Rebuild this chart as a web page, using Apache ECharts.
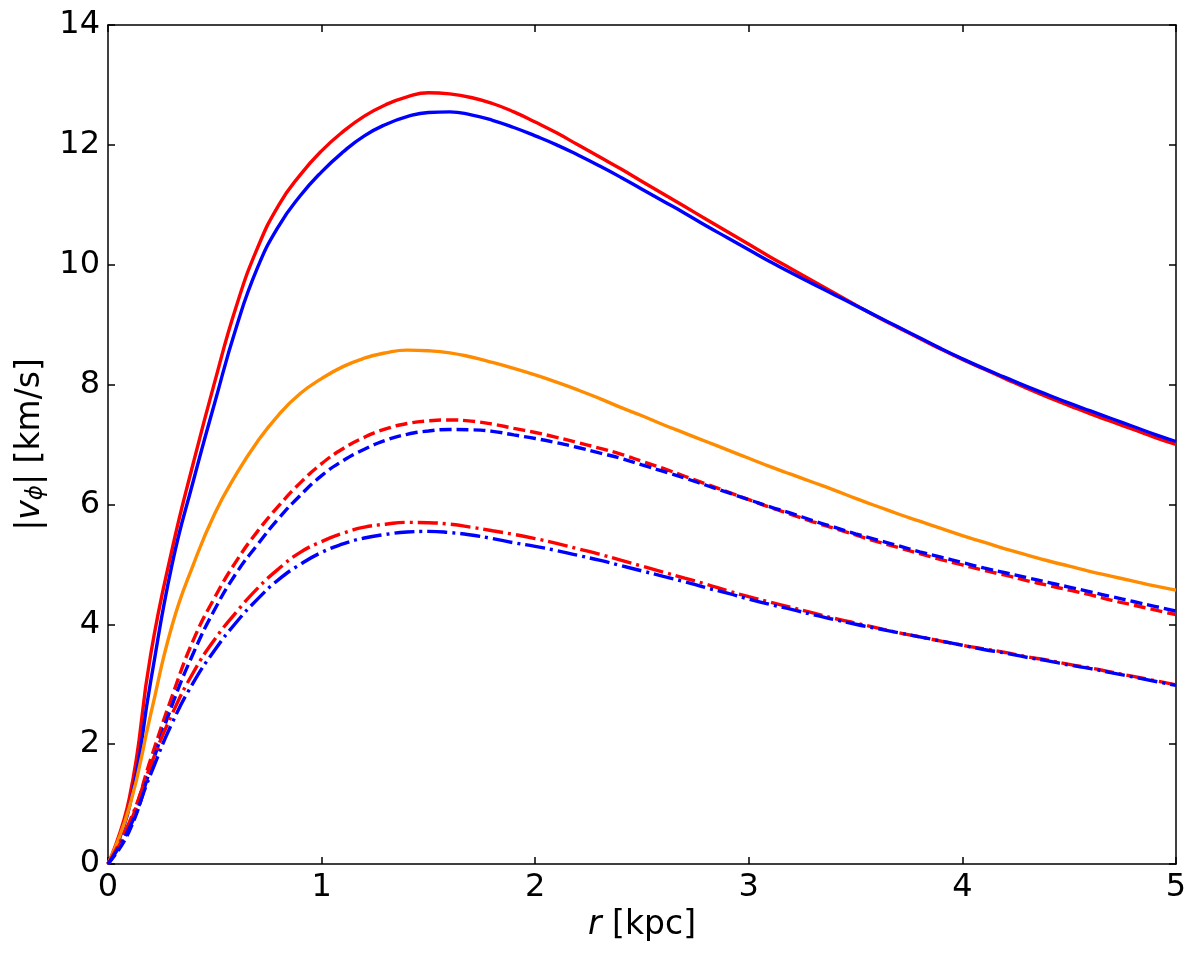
<!DOCTYPE html>
<html>
<head>
<meta charset="utf-8">
<script src="https://cdn.jsdelivr.net/npm/echarts@6/dist/echarts.min.js"></script>
<style>
html,body{margin:0;padding:0;background:#fff;}
#chart{width:1200px;height:959px;}
</style>
</head>
<body>
<div id="chart"></div>
<script>
// radius grid [kpc]
const r = [0,0.1,0.2,0.3,0.4,0.5,0.6,0.7,0.8,0.9,1.0,1.1,1.2,1.3,1.4,1.5,1.6,1.7,1.8,1.9,2.0,2.1,2.2,2.3,2.4,2.5,2.6,2.7,2.8,2.9,3.0,3.1,3.2,3.3,3.4,3.5,3.6,3.7,3.8,3.9,4.0,4.1,4.2,4.3,4.4,4.5,4.6,4.7,4.8,4.9,5.0];
// |v_phi| [km/s]
const redSolid    = [0,1.1,3.5,5.25,6.7,8.05,9.3,10.28,11.0,11.5,11.9,12.22,12.48,12.67,12.8,12.87,12.85,12.79,12.69,12.55,12.38,12.2,12.0,11.8,11.6,11.39,11.18,10.97,10.76,10.55,10.34,10.13,9.93,9.73,9.53,9.33,9.13,8.95,8.77,8.59,8.42,8.26,8.1,7.94,7.79,7.65,7.51,7.38,7.25,7.12,7.0];
const blueSolid   = [0,0.95,3.05,5.0,6.4,7.7,8.95,9.95,10.65,11.15,11.55,11.88,12.15,12.34,12.47,12.54,12.55,12.5,12.41,12.29,12.15,12.0,11.83,11.65,11.46,11.26,11.06,10.86,10.65,10.45,10.25,10.05,9.86,9.68,9.5,9.32,9.14,8.96,8.78,8.6,8.43,8.27,8.12,7.97,7.83,7.69,7.56,7.43,7.3,7.17,7.05];
const orangeSolid = [0,0.95,2.5,3.98,5.0,5.85,6.5,7.05,7.5,7.85,8.1,8.3,8.44,8.53,8.575,8.565,8.53,8.46,8.37,8.27,8.16,8.04,7.91,7.77,7.62,7.48,7.33,7.19,7.05,6.91,6.77,6.63,6.5,6.37,6.24,6.1,5.97,5.84,5.72,5.6,5.48,5.37,5.26,5.16,5.06,4.97,4.88,4.8,4.72,4.64,4.57];
const redDashed   = [0,0.65,1.75,2.8,3.74,4.45,5.05,5.55,5.98,6.36,6.68,6.93,7.12,7.26,7.35,7.395,7.41,7.39,7.34,7.27,7.2,7.12,7.03,6.94,6.84,6.72,6.6,6.47,6.34,6.21,6.08,5.95,5.83,5.71,5.6,5.49,5.38,5.28,5.18,5.08,4.99,4.9,4.82,4.73,4.65,4.57,4.49,4.4,4.32,4.24,4.16];
const blueDashed  = [0,0.55,1.6,2.65,3.52,4.25,4.85,5.33,5.77,6.15,6.48,6.73,6.92,7.07,7.17,7.225,7.25,7.245,7.22,7.16,7.1,7.03,6.95,6.86,6.77,6.66,6.55,6.44,6.32,6.2,6.08,5.96,5.85,5.73,5.62,5.51,5.41,5.31,5.21,5.12,5.03,4.94,4.86,4.78,4.7,4.62,4.54,4.46,4.38,4.3,4.22];
const redDashDot  = [0,0.7,1.65,2.5,3.2,3.75,4.2,4.6,4.93,5.2,5.38,5.52,5.62,5.67,5.7,5.695,5.67,5.62,5.56,5.5,5.43,5.35,5.26,5.17,5.07,4.97,4.87,4.77,4.67,4.56,4.46,4.37,4.28,4.19,4.1,4.02,3.94,3.86,3.79,3.72,3.65,3.59,3.53,3.46,3.4,3.33,3.27,3.2,3.13,3.06,2.99];
const blueDashDot = [0,0.6,1.5,2.35,3.03,3.57,4.03,4.42,4.75,5.0,5.2,5.34,5.44,5.5,5.54,5.55,5.53,5.49,5.43,5.36,5.3,5.23,5.15,5.07,4.98,4.89,4.8,4.71,4.61,4.52,4.42,4.33,4.25,4.16,4.08,4.0,3.93,3.86,3.79,3.72,3.65,3.58,3.52,3.45,3.39,3.32,3.26,3.19,3.12,3.05,2.98];
const xTicks = [0,1,2,3,4,5];
const yTicks = [0,2,4,6,8,10,12,14];

const FONT = 'DejaVu Sans';
const pairs = ys => r.map((x,i)=>[x, ys[i]]);
function line(name, ys, color, type){
  return {
    name, type:'line', data: pairs(ys), showSymbol:false, smooth:0.5,
    lineStyle:{color, width:3.4, type: type || 'solid', cap:'butt'},
    itemStyle:{color}, animation:false, silent:true, clip:true
  };
}
const axisCommon = {
  axisLine:{show:true, onZero:false, lineStyle:{color:'#000', width:1.5}},
  axisTick:{show:true, inside:true, length:7, lineStyle:{color:'#000', width:1.5}},
  splitLine:{show:false}
};
const chart = echarts.init(document.getElementById('chart'), null, {renderer:'canvas'});
chart.setOption({
  backgroundColor:'#fff',
  animation:false,
  grid:{left:108, right:24, top:25, bottom:95, containLabel:false},
  xAxis:[
    Object.assign({type:'value', position:'bottom', min:0, max:5, interval:1,
      name:'{i|r} [kpc]', nameLocation:'middle', nameGap:42,
      nameTextStyle:{fontFamily:FONT, fontSize:33, color:'#000', rich:{i:{fontFamily:FONT, fontSize:33, fontStyle:'italic', color:'#000'}}},
      axisLabel:{fontFamily:FONT, fontSize:32, color:'#000', margin:8, formatter: v => xTicks.includes(v) ? String(v) : ''}
    }, axisCommon),
    Object.assign({type:'value', position:'top', min:0, max:5, interval:1, axisLabel:{show:false}}, axisCommon)
  ],
  yAxis:[
    Object.assign({type:'value', position:'left', min:0, max:14, interval:2,
      name:'|{i|v}{s|ϕ}| [km/s]', nameLocation:'middle', nameGap:60, nameRotate:90,
      nameTextStyle:{fontFamily:FONT, fontSize:33, color:'#000',
        rich:{i:{fontFamily:FONT, fontSize:33, fontStyle:'italic', color:'#000'},
              s:{fontFamily:FONT, fontSize:23, fontStyle:'italic', color:'#000', verticalAlign:'bottom', padding:[12,0,0,0]}}},
      axisLabel:{fontFamily:FONT, fontSize:32, color:'#000', margin:8, formatter: v => yTicks.includes(v) ? String(v) : ''}
    }, axisCommon),
    Object.assign({type:'value', position:'right', min:0, max:14, interval:2, axisLabel:{show:false}}, axisCommon)
  ],
  series:[
    line('red solid', redSolid, '#ff0000'),
    line('blue solid', blueSolid, '#0000ff'),
    line('orange solid', orangeSolid, '#ff8c00'),
    line('red dashed', redDashed, '#ff0000', [12,5]),
    line('blue dashed', blueDashed, '#0000ff', [12,5]),
    line('red dash-dot', redDashDot, '#ff0000', [20,5,3,5]),
    line('blue dash-dot', blueDashDot, '#0000ff', [20,5,3,5])
  ]
});
</script>
</body>
</html>
